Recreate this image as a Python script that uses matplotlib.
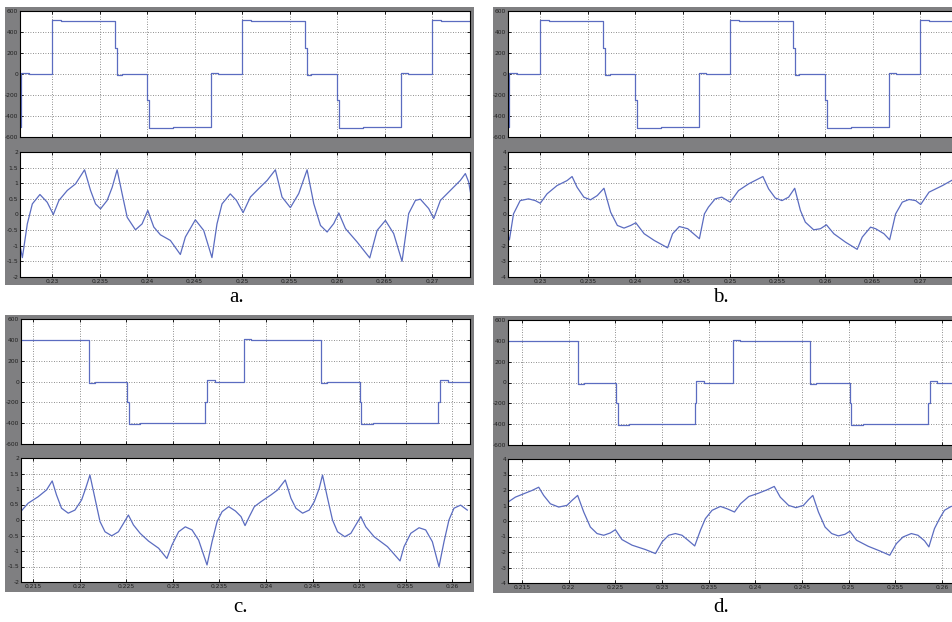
import matplotlib
matplotlib.use("Agg")
import matplotlib.pyplot as plt
from matplotlib.patches import Rectangle

W, H = 952, 622

# ---------------- data ----------------
# Voltage (step) waveforms: switching instants and levels
volt_ab_t = [0.2266, 0.22668, 0.2275, 0.2300, 0.2309, 0.23665, 0.2368, 0.2373, 0.2400, 0.24015,
             0.2427, 0.24675, 0.2475, 0.2500, 0.2509, 0.25665, 0.2568, 0.2573, 0.2600, 0.26015,
             0.2627, 0.26675, 0.2675, 0.2700, 0.2709, 0.2745]
volt_ab_v = [-500, 10, 0, 510, 500, 250, -10, 0, -250, -510,
             -500, 10, 0, 510, 500, 250, -10, 0, -250, -510,
             -500, 10, 0, 510, 500, 500]

volt_cd_t = [0.2134, 0.2210, 0.2216, 0.2251, 0.22525, 0.2265, 0.2335, 0.23365, 0.2345, 0.2376,
             0.2384, 0.2459, 0.2465, 0.2501, 0.25025, 0.2515, 0.2585, 0.25865, 0.2595, 0.2620]
volt_cd_v = [400, -10, 0, -200, -405, -400, -200, 10, 0, 405,
             400, -10, 0, -200, -405, -400, -200, 10, 0, 0]

# Current waveforms
cur_a_t = [0.22667, 0.22685, 0.22737, 0.2279, 0.2287, 0.22947, 0.23011, 0.2307, 0.23158, 0.23245,
           0.2334, 0.23403, 0.23456, 0.23508, 0.23578, 0.23631, 0.23683, 0.23736, 0.23789, 0.23876,
           0.23946, 0.24006, 0.24069, 0.24139, 0.24244, 0.24349, 0.24402, 0.24507, 0.24595, 0.24682,
           0.24735, 0.24788, 0.24875, 0.2494, 0.2501, 0.25087, 0.25175, 0.25263, 0.2535, 0.2542,
           0.25508, 0.25596, 0.25684, 0.25754, 0.25825, 0.25895, 0.25965, 0.26018, 0.26088, 0.26211,
           0.26344, 0.26421, 0.26509, 0.26596, 0.26684, 0.26754, 0.26825, 0.26877, 0.26965, 0.27018,
           0.27088, 0.27193, 0.27298, 0.27351, 0.27386, 0.27404]
cur_a_v = [-1.10, -1.38, -0.30, 0.34, 0.64, 0.39, 0.00, 0.45, 0.77, 0.98,
           1.43, 0.77, 0.34, 0.18, 0.45, 0.87, 1.43, 0.66, -0.09, -0.49,
           -0.30, 0.13, -0.40, -0.65, -0.83, -1.28, -0.72, -0.17, -0.51, -1.38,
           -0.30, 0.34, 0.66, 0.45, 0.06, 0.56, 0.83, 1.09, 1.43, 0.56,
           0.22, 0.67, 1.43, 0.35, -0.35, -0.56, -0.29, 0.05, -0.45, -0.88,
           -1.39, -0.51, -0.19, -0.61, -1.50, 0.03, 0.45, 0.49, 0.19, -0.13,
           0.45, 0.77, 1.09, 1.31, 1.04, 0.72]

cur_b_t = [0.22658, 0.22675, 0.22718, 0.22788, 0.22876, 0.22947, 0.2300, 0.23071, 0.23176, 0.23282,
           0.23335, 0.23388, 0.23459, 0.23529, 0.2360, 0.23671, 0.23741, 0.23812, 0.23882, 0.23953,
           0.24006, 0.24094, 0.2420, 0.24341, 0.24394, 0.24465, 0.24553, 0.24676, 0.24729, 0.24771,
           0.24842, 0.24912, 0.2500, 0.25088, 0.25194, 0.25345, 0.25405, 0.25475, 0.25546, 0.25616,
           0.2568, 0.2574, 0.25792, 0.2588, 0.25951, 0.26014, 0.26092, 0.26215, 0.26338, 0.26391,
           0.26479, 0.26532, 0.2662, 0.2668, 0.26743, 0.26813, 0.26884, 0.26954, 0.27007, 0.27095,
           0.27236, 0.27342, 0.27363, 0.2740]
cur_b_v = [-1.34, -1.62, 0.04, 0.89, 1.00, 0.89, 0.72, 1.32, 1.85, 2.17,
           2.43, 1.74, 1.11, 0.94, 1.21, 1.68, 0.15, -0.70, -0.87, -0.70,
           -0.53, -1.23, -1.66, -2.13, -1.23, -0.77, -0.91, -1.55, 0.04, 0.47,
           1.00, 1.11, 0.79, 1.53, 1.96, 2.43, 1.64, 1.06, 0.89, 1.11,
           1.68, 0.26, -0.49, -0.98, -0.91, -0.66, -1.23, -1.77, -2.23, -1.45,
           -0.81, -0.91, -1.23, -1.62, 0.04, 0.79, 0.96, 0.89, 0.64, 1.43,
           1.85, 2.21, 2.28, 2.35]

cur_c_t = [0.21367, 0.21446, 0.21554, 0.21644, 0.21705, 0.21751, 0.21805, 0.21877, 0.21949, 0.22021,
           0.22064, 0.2211, 0.22164, 0.22218, 0.22272, 0.22344, 0.22416, 0.2247, 0.22523, 0.22577,
           0.22649, 0.22739, 0.22847, 0.22936, 0.2299, 0.23062, 0.23134, 0.23206, 0.23277, 0.23367,
           0.23421, 0.23475, 0.23529, 0.2360, 0.23672, 0.23732, 0.23775, 0.23821, 0.23875, 0.23946,
           0.24054, 0.24125, 0.24207, 0.24268, 0.24321, 0.24393, 0.24464, 0.24518, 0.24571, 0.24607,
           0.24661, 0.24714, 0.24768, 0.24846, 0.24911, 0.24964, 0.25018, 0.25071, 0.25161, 0.25304,
           0.25439, 0.25482, 0.25554, 0.25643, 0.25714, 0.25786, 0.25857, 0.25911, 0.25964, 0.26018,
           0.26089, 0.26161]
cur_c_v = [0.27, 0.54, 0.75, 0.97, 1.26, 0.81, 0.38, 0.22, 0.32, 0.65,
           1.02, 1.45, 0.70, -0.05, -0.38, -0.51, -0.38, -0.11, 0.16, -0.16,
           -0.43, -0.68, -0.91, -1.24, -0.81, -0.38, -0.22, -0.32, -0.65, -1.45,
           -0.70, -0.05, 0.27, 0.43, 0.29, 0.11, -0.18, 0.11, 0.43, 0.59,
           0.81, 0.97, 1.29, 0.70, 0.38, 0.22, 0.32, 0.59, 1.02, 1.45,
           0.70, 0.00, -0.38, -0.54, -0.43, -0.16, 0.11, -0.22, -0.54, -0.86,
           -1.32, -0.86, -0.43, -0.25, -0.32, -0.70, -1.51, -0.70, 0.00, 0.38,
           0.48, 0.32]

cur_d_t = [0.2135, 0.21429, 0.21536, 0.21607, 0.21679, 0.21732, 0.21804, 0.21893, 0.21982, 0.22036,
           0.22096, 0.22161, 0.22232, 0.22304, 0.22375, 0.22446, 0.2250, 0.22571, 0.22679, 0.22821,
           0.22929, 0.2300, 0.23071, 0.23143, 0.23214, 0.23286, 0.2335, 0.23411, 0.23464, 0.23536,
           0.23625, 0.23696, 0.23776, 0.2384, 0.23929, 0.24036, 0.24124, 0.24202, 0.24266, 0.24355,
           0.24433, 0.24515, 0.24568, 0.24615, 0.24675, 0.24746, 0.24817, 0.24888, 0.24959, 0.25012,
           0.25083, 0.25208, 0.25332, 0.25439, 0.2551, 0.25581, 0.2567, 0.25741, 0.25812, 0.25858,
           0.25918, 0.25972, 0.26025, 0.26096, 0.2617]
cur_d_v = [1.22, 1.54, 1.80, 1.97, 2.18, 1.65, 1.11, 0.90, 1.01, 1.33,
           1.65, 0.58, -0.39, -0.81, -0.92, -0.77, -0.56, -1.20, -1.56, -1.84,
           -2.10, -1.35, -0.92, -0.81, -0.92, -1.28, -1.61, -0.60, 0.15, 0.69,
           0.94, 0.79, 0.58, 1.11, 1.58, 1.80, 2.01, 2.23, 1.54, 1.01,
           0.86, 1.01, 1.37, 1.65, 0.58, -0.39, -0.81, -0.96, -0.86, -0.66,
           -1.24, -1.63, -1.93, -2.21, -1.46, -1.03, -0.81, -0.92, -1.28, -1.67,
           -0.49, 0.15, 0.69, 0.94, 0.95]

# Axis ticks / labels
xt_ab = [0.23, 0.235, 0.24, 0.245, 0.25, 0.255, 0.26, 0.265, 0.27]
xt_ab_lbl = ["0.23", "0.235", "0.24", "0.245", "0.25", "0.255", "0.26", "0.265", "0.27"]
xt_cd = [0.215, 0.22, 0.225, 0.23, 0.235, 0.24, 0.245, 0.25, 0.255, 0.26]
xt_cd_lbl = ["0.215", "0.22", "0.225", "0.23", "0.235", "0.24", "0.245", "0.25", "0.255", "0.26"]
yt_volt = [-600, -400, -200, 0, 200, 400, 600]
yt_volt_lbl = ["-600", "-400", "-200", "0", "200", "400", "600"]
yt_cur2 = [-2, -1.5, -1, -0.5, 0, 0.5, 1, 1.5, 2]
yt_cur2_lbl = ["-2", "-1.5", "-1", "-0.5", "0", "0.5", "1", "1.5", "2"]
yt_cur4 = [-4, -3, -2, -1, 0, 1, 2, 3, 4]
yt_cur4_lbl = ["-4", "-3", "-2", "-1", "0", "1", "2", "3", "4"]
panel_labels = ["a.", "b.", "c.", "d."]

# ---------------- drawing ----------------
GREY = "#7f7f81"
LINE = "#5b6cc0"

fig = plt.figure(figsize=(W / 100, H / 100), dpi=100)
fig.patch.set_facecolor("white")


def rect(x0, y0, x1, y1):
    return [x0 / W, 1 - y1 / H, (x1 - x0) / W, (y1 - y0) / H]


def grey_box(x0, y0, x1, y1):
    bg = fig.add_axes(rect(x0, y0, x1, y1), zorder=-5)
    bg.set_facecolor(GREY)
    bg.set_xticks([])
    bg.set_yticks([])
    for s in bg.spines.values():
        s.set_visible(False)


def style(ax, xlim, ylim, xt, xtl, yt, ytl, show_x):
    ax.set_facecolor("white")
    ax.set_xlim(*xlim)
    ax.set_ylim(*ylim)
    ax.set_xticks(xt)
    ax.set_xticklabels(xtl if show_x else [])
    ax.set_yticks(yt)
    ax.set_yticklabels(ytl)
    ax.grid(True, color="#6a6a6a", linestyle=(0, (1, 2)), linewidth=0.6)
    ax.tick_params(direction="in", length=2.5, width=0.6, top=True, right=True,
                   labelsize=4.3, pad=1.2, colors="black", labelcolor="#202020")
    for s in ax.spines.values():
        s.set_linewidth(0.8)
        s.set_color("black")


panels = [
    dict(box=(5, 7, 474, 285), top=(20, 11, 470, 137), bot=(20, 152, 470, 277),
         xlim=(0.2266, 0.2740), xt=xt_ab, xtl=xt_ab_lbl, vt=volt_ab_t, vv=volt_ab_v,
         ct=cur_a_t, cv=cur_a_v, cyl=(-2, 2), cyt=yt_cur2, cytl=yt_cur2_lbl,
         lab=(237, 297)),
    dict(box=(493, 7, 962, 285), top=(508, 11, 958, 137), bot=(508, 152, 958, 277),
         xlim=(0.2266, 0.2740), xt=xt_ab, xtl=xt_ab_lbl, vt=volt_ab_t, vv=volt_ab_v,
         ct=cur_b_t, cv=cur_b_v, cyl=(-4, 4), cyt=yt_cur4, cytl=yt_cur4_lbl,
         lab=(721, 297)),
    dict(box=(5, 315, 474, 592), top=(21, 319, 470, 444), bot=(21, 458, 470, 582),
         xlim=(0.2137, 0.2619), xt=xt_cd, xtl=xt_cd_lbl, vt=volt_cd_t, vv=volt_cd_v,
         ct=cur_c_t, cv=cur_c_v, cyl=(-2, 2), cyt=yt_cur2, cytl=yt_cur2_lbl,
         lab=(240, 608)),
    dict(box=(493, 316, 962, 593), top=(508, 320, 958, 445), bot=(508, 459, 958, 583),
         xlim=(0.2135, 0.2617), xt=xt_cd, xtl=xt_cd_lbl, vt=volt_cd_t, vv=volt_cd_v,
         ct=cur_d_t, cv=cur_d_v, cyl=(-4, 4), cyt=yt_cur4, cytl=yt_cur4_lbl,
         lab=(721, 608)),
]

for p, lab in zip(panels, panel_labels):
    grey_box(*p["box"])
    ax1 = fig.add_axes(rect(*p["top"]))
    ax1.plot(p["vt"], p["vv"], drawstyle="steps-post", color=LINE, linewidth=0.9)
    style(ax1, p["xlim"], (-600, 600), p["xt"], p["xtl"], yt_volt, yt_volt_lbl, False)

    ax2 = fig.add_axes(rect(*p["bot"]))
    ax2.plot(p["ct"], p["cv"], color=LINE, linewidth=0.9)
    style(ax2, p["xlim"], p["cyl"], p["xt"], p["xtl"], p["cyt"], p["cytl"], True)

    fig.text(p["lab"][0] / W, 1 - p["lab"][1] / H, lab, ha="center", va="center",
             fontsize=15, family="Liberation Serif", color="black")

fig.savefig("out.png", dpi=100, facecolor="white")
